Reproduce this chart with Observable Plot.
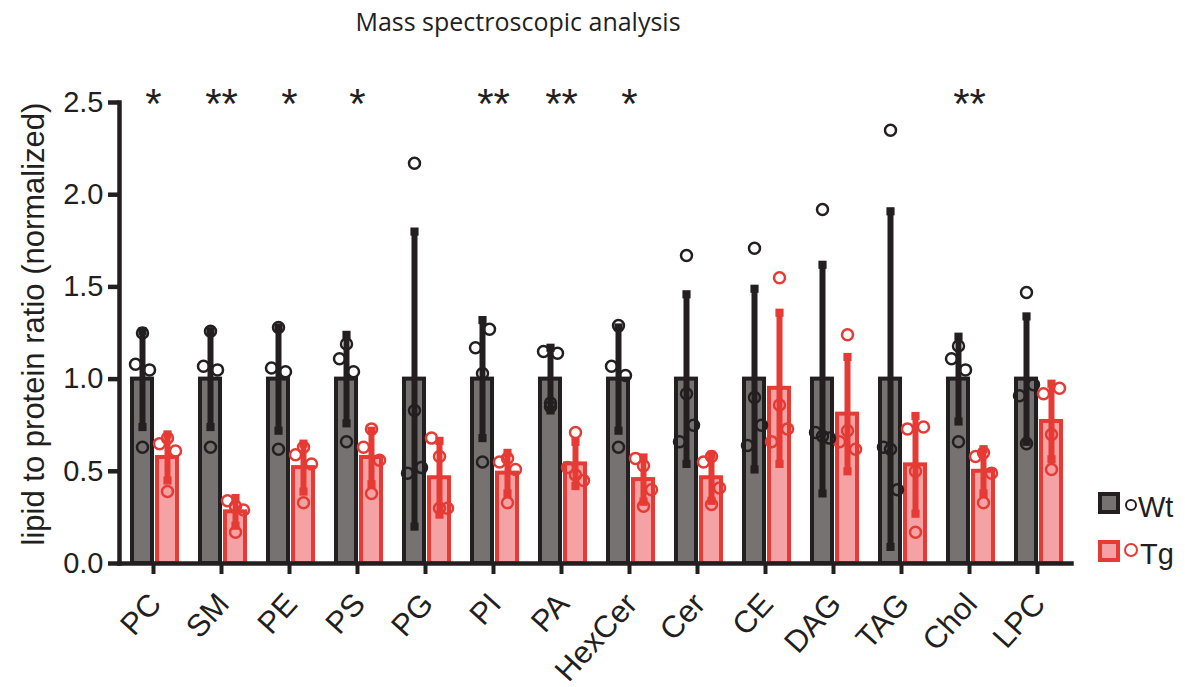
<!DOCTYPE html>
<html><head><meta charset="utf-8">
<script src="https://cdn.jsdelivr.net/npm/d3@7"></script>
<script src="https://cdn.jsdelivr.net/npm/@observablehq/plot@0.6"></script>
<style>
body{margin:0;background:#fff;}
#wrap{position:relative;width:1185px;height:687px;overflow:hidden;}
#title{position:absolute;left:0;top:8px;width:1036px;text-align:center;font:25px/26px "Open Sans",sans-serif;color:#231f20;}
.lg{position:absolute;box-sizing:border-box;}
.lt{position:absolute;font:29px/29px "Liberation Sans",Arial,sans-serif;color:#231f20;}
</style></head>
<body>
<div id="wrap">
<div id="chart"></div>
<div id="title">Mass spectroscopic analysis</div>
<div class="lg" style="left:1098px;top:492px;width:22px;height:22px;background:#767271;border:4px solid #231f20;"></div>
<div class="lg" style="left:1125px;top:499px;width:12px;height:12px;border:2.5px solid #231f20;border-radius:50%;"></div>
<div class="lt" style="left:1138px;top:493px;">Wt</div>
<div class="lg" style="left:1098px;top:540px;width:22px;height:22px;background:#f4a2a4;border:4px solid #e63a35;"></div>
<div class="lg" style="left:1124px;top:543px;width:14px;height:14px;border:2.5px solid #e63a35;border-radius:50%;"></div>
<div class="lt" style="left:1140px;top:540px;">Tg</div>
</div>
<script>
const categories = ["PC","SM","PE","PS","PG","PI","PA","HexCer","Cer","CE","DAG","TAG","Chol","LPC"];
const significance = ["*","**","*","*","","**","**","*","","","","","**",""];
const yTicks = [0, 0.5, 1, 1.5, 2, 2.5];
const yLabel = "lipid to protein ratio (normalized)";

const wtMean = [1,1,1,1,1,1,1,1,1,1,1,1,1,1];
const wtSD   = [0.26,0.26,0.28,0.24,0.80,0.32,0.17,0.28,0.46,0.49,0.62,0.91,0.23,0.34];
const tgMean = [0.575,0.28,0.52,0.575,0.465,0.49,0.54,0.455,0.465,0.95,0.81,0.535,0.50,0.77];
const tgSD   = [0.125,0.075,0.13,0.145,0.20,0.11,0.12,0.12,0.125,0.41,0.31,0.265,0.12,0.205];

const wtPoints = [
  [1.08,1.05,1.25,0.63],
  [1.07,1.05,1.26,0.63],
  [1.06,1.04,1.28,0.62],
  [1.11,1.04,1.19,0.66],
  [0.49,0.52,2.17,0.83],
  [1.17,1.27,1.03,0.55],
  [1.15,1.14,0.87,0.85],
  [1.07,1.02,1.29,0.63],
  [0.66,0.75,1.67,0.92],
  [0.64,0.75,1.71,0.90],
  [0.71,0.68,1.92,0.69],
  [0.63,0.40,2.35,0.62],
  [1.11,1.05,1.18,0.66],
  [0.91,0.97,1.47,0.65]
];
const tgPoints = [
  [0.65,0.61,0.68,0.39],
  [0.34,0.29,0.31,0.17],
  [0.59,0.54,0.63,0.33],
  [0.63,0.56,0.73,0.38],
  [0.68,0.30,0.58,0.30],
  [0.55,0.51,0.57,0.33],
  [0.52,0.45,0.71,0.48],
  [0.57,0.40,0.53,0.31],
  [0.55,0.41,0.58,0.32],
  [0.66,0.73,1.55,0.86],
  [0.66,0.62,1.24,0.72],
  [0.73,0.74,0.50,0.17],
  [0.58,0.49,0.60,0.33],
  [0.92,0.95,0.70,0.51]
];

const rows = categories.map((c, i) => ({
  cat: c, sig: significance[i],
  wt: wtMean[i], wtSD: wtSD[i], tg: tgMean[i], tgSD: tgSD[i],
  wtPts: wtPoints[i], tgPts: tgPoints[i]
}));

const INK = "#231f20", GRAY = "#767271", RED = "#e63a35", PINK = "#f4a2a4";
const wtDx = -11, tgDx = 14;
const wtJ = [-7, 7, 0, 0], tgJ = [-8, 8, 0, 0];

const marks = [
  Plot.barY(rows, {x: "cat", y: "wt", fill: GRAY, stroke: INK, strokeWidth: 4, insetLeft: 13, insetRight: 35}),
  Plot.barY(rows, {x: "cat", y: "tg", fill: PINK, stroke: RED, strokeWidth: 4, insetLeft: 38, insetRight: 10}),
  Plot.ruleX(rows, {x: "cat", y1: d => d.wt - d.wtSD, y2: d => d.wt + d.wtSD, dx: wtDx, stroke: INK, strokeWidth: 6}),
  Plot.ruleX(rows, {x: "cat", y1: d => d.tg - d.tgSD, y2: d => d.tg + d.tgSD, dx: tgDx, stroke: RED, strokeWidth: 6}),
  Plot.dot(rows, {x: "cat", y: d => d.wt + d.wtSD, dx: wtDx, symbol: "square", r: 4.6, fill: INK}),
  Plot.dot(rows, {x: "cat", y: d => d.wt - d.wtSD, dx: wtDx, symbol: "square", r: 4.6, fill: INK}),
  Plot.dot(rows, {x: "cat", y: d => d.tg + d.tgSD, dx: tgDx, symbol: "square", r: 4.6, fill: RED}),
  Plot.dot(rows, {x: "cat", y: d => d.tg - d.tgSD, dx: tgDx, symbol: "square", r: 4.6, fill: RED})
];
for (let k = 0; k < 4; k++) {
  marks.push(Plot.dot(rows, {x: "cat", y: d => d.wtPts[k], dx: wtDx + wtJ[k], r: 5.5, stroke: INK, strokeWidth: 2.5, fill: "none"}));
  marks.push(Plot.dot(rows, {x: "cat", y: d => d.tgPts[k], dx: tgDx + tgJ[k], r: 5.5, stroke: RED, strokeWidth: 2.5, fill: "none"}));
}
marks.push(
  Plot.frame({anchor: "left", stroke: INK, strokeWidth: 4.5}),
  Plot.frame({anchor: "bottom", stroke: INK, strokeWidth: 4.5}),
  Plot.axisY({ticks: yTicks, tickFormat: d3.format(".1f"), tickSize: 11, tickPadding: 5, strokeWidth: 4.5, fontSize: 29, label: null, color: INK}),
  Plot.axisX({tickSize: 11, strokeWidth: 4, tickFormat: () => "", label: null, color: INK}),
  Plot.axisX({tickRotate: -48, tickSize: 0, tickPadding: 35, dx: 2, fontSize: 31, label: null, color: INK}),
  Plot.text(rows, {x: "cat", text: "sig", frameAnchor: "top", dy: -14, fontSize: 42, fill: INK}),
  Plot.text([yLabel], {text: d => d, frameAnchor: "left", textAnchor: "middle", rotate: -90, dx: -85, dy: -9, fontSize: 31, fill: INK})
);

const chart = Plot.plot({
  width: 1185, height: 687,
  marginTop: 102, marginBottom: 124, marginLeft: 119, marginRight: 114,
  style: {fontFamily: "'Liberation Sans', Arial, sans-serif", color: INK, background: "white"},
  x: {type: "band", domain: categories, padding: 0},
  y: {domain: [0, 2.5]},
  marks
});
document.getElementById("chart").appendChild(chart);
</script>
</body></html>
